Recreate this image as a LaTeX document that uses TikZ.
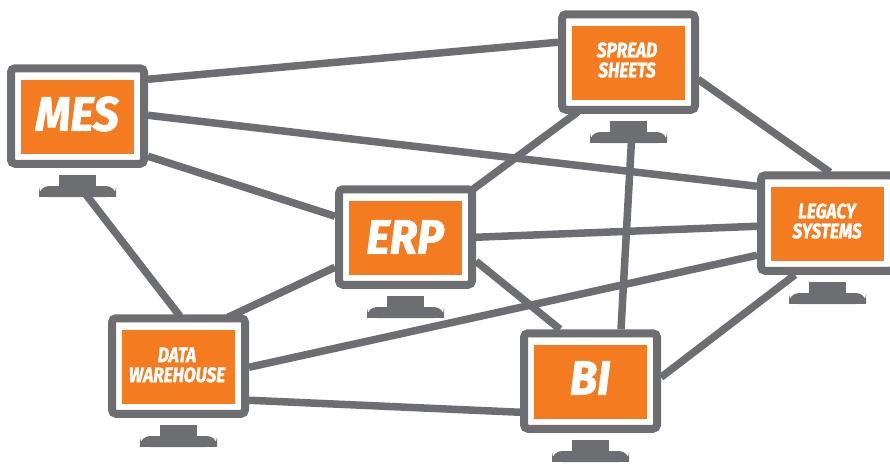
\documentclass[tikz,border=0pt]{standalone}
\usepackage{fontspec}
\setmainfont{Fira Sans}[BoldItalicFeatures={FakeBold=1.8}]
\usetikzlibrary{backgrounds}
\definecolor{mongrey}{HTML}{6D6E71}
\definecolor{monorange}{HTML}{F47B20}
\tikzset{
  screenframe/.style={draw=mongrey,fill=white,line width=8pt,rounded corners=4pt,outer sep=4pt,inner sep=0pt,minimum width=133pt,minimum height=95.5pt},
  screenpanel/.style={fill=monorange,inner sep=0pt,minimum width=113pt,minimum height=74pt},
  screentext/.style={text=white,font=\fontsize{20}{20}\selectfont\bfseries\itshape,align=center,inner sep=0pt},
  link/.style={draw=mongrey,line width=7.5pt},
  standshape/.style={fill=mongrey}
}
\newcommand{\monitor}[3]{%
  \node[screenframe] (#1) at (#2+70.5,#3+51) {};
  \node[screenpanel] (#1-panel) at (#2+70.5,#3+52) {};
  \fill[standshape] (#2+52,#3+110) rectangle (#2+89,#3+122);
  \fill[standshape,rounded corners=10pt] (#2+32,#3+132) -- (#2+32,#3+121) -- (#2+109,#3+121) -- (#2+109,#3+132) -- cycle;
  \fill[standshape] (#2+32,#3+127) rectangle (#2+109,#3+132);
  \coordinate (#1-stand) at (#2+70.5,#3+132);
}
\newcommand{\scr}[3]{\scalebox{#1}[1]{\fontsize{#2}{#2}\selectfont #3}}
\begin{document}
\begin{tikzpicture}[x=1pt,y=-1pt]
\useasboundingbox (0,0) rectangle (890,464);
\monitor{mes}{7}{65}
\monitor{spread}{558}{11}
\monitor{erp}{335}{186}
\monitor{legacy}{757}{172}
\monitor{data}{108}{315}
\monitor{bi}{520}{330}
\node[screentext] (mestext) at (77,114) {\scr{.94}{48}{MES}};
\node[screentext] (erptext) at (405,237) {\scr{.94}{48}{ERP}};
\node[screentext] (bitext) at (590,378) {\scr{.94}{48}{BI}};
\node[screentext] (spreadtext) at (627,60) {\scr{.82}{21}{SPREAD}\\\scr{.82}{21}{SHEETS}};
\node[screentext] (legacytext) at (827,221) {\scr{.82}{21}{LEGACY}\\\scr{.82}{21}{SYSTEMS}};
\node[screentext] (datatext) at (177,365) {\scr{.82}{21}{DATA}\\\scr{.82}{21}{WAREHOUSE}};
\begin{scope}[on background layer]
\draw[link] ([shift={(0,15)}]mes.north east) -- ([shift={(0,32)}]spread.north west);
\draw[link] ([shift={(0,51)}]mes.north east) -- ([shift={(0,15)}]legacy.north west);
\draw[link] ([shift={(0,92)}]mes.north east) -- ([shift={(0,31)}]erp.north west);
\draw[link] ([shift={(8,-3)}]mes-stand) -- ([shift={(72,2)}]data.north west);
\draw[link] ([shift={(-3,4)}]erp.north east) -- ([shift={(20,-2)}]spread.south west);
\draw[link] ([shift={(-1,69)}]spread.north east) -- ([shift={(73,1)}]legacy.north west);
\draw[link] ([shift={(3,-3)}]spread-stand) -- ([shift={(101,0)}]bi.north west);
\draw[link] ([shift={(0,52)}]erp.north east) -- ([shift={(0,55)}]legacy.north west);
\draw[link] ([shift={(0,76)}]erp.north east) -- ([shift={(40,0)}]bi.north west);
\draw[link] ([shift={(0,82)}]erp.north west) -- ([shift={(120,3)}]data.north west);
\draw[link] ([shift={(0,53)}]data.north east) -- ([shift={(0,84)}]legacy.north west);
\draw[link] ([shift={(0,86)}]data.north east) -- ([shift={(0,83)}]bi.north west);
\draw[link] ([shift={(0,48)}]bi.north east) -- ([shift={(38,0)}]legacy.south west);
\end{scope}
\end{tikzpicture}
\end{document}
